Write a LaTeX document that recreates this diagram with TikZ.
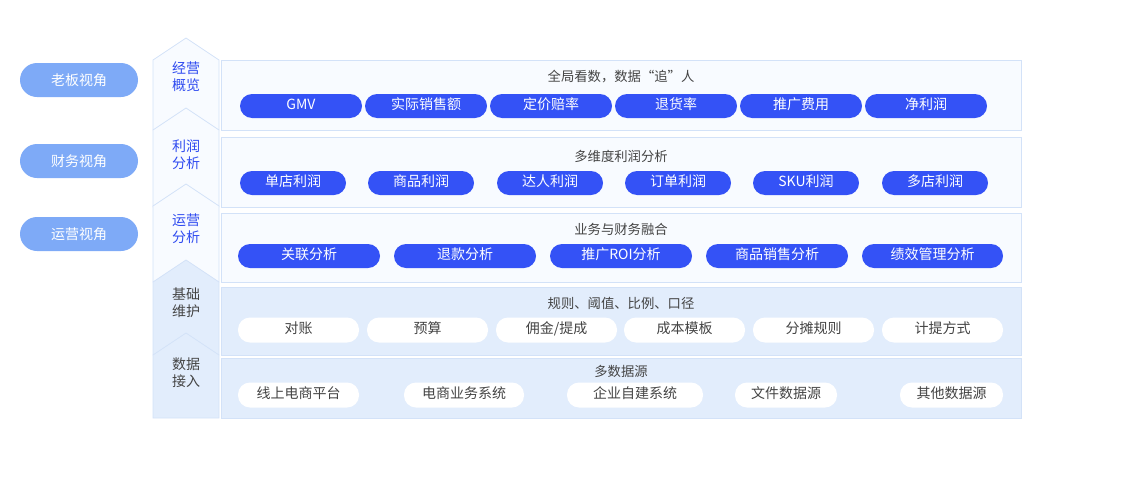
\documentclass[tikz,border=0pt]{standalone}
\usepackage{fontspec}
\setmainfont{Noto Sans CJK SC}
\definecolor{chipblue}{HTML}{3452F6}
\definecolor{viewblue}{HTML}{7EAAF7}
\definecolor{paleface}{HTML}{F8FBFF}
\definecolor{iceface}{HTML}{E2EDFC}
\definecolor{edgeblue}{HTML}{D3E2F8}
\definecolor{labelblue}{HTML}{2F4BF0}
\definecolor{inkgray}{HTML}{444444}
\tikzset{
  viewpill/.style={rounded corners=17*0.75pt,fill=viewblue,text=white,font=\fontsize{10.5}{12}\selectfont,minimum width=118*0.75pt,minimum height=34*0.75pt,inner sep=0pt},
  hotchip/.style={rounded corners=12*0.75pt,fill=chipblue,text=white,font=\fontsize{10.5}{12}\selectfont,minimum height=24*0.75pt,inner sep=0pt},
  coolchip/.style={rounded corners=12*0.75pt,fill=white,text=inkgray,font=\fontsize{10.5}{12}\selectfont,minimum height=25*0.75pt,inner sep=0pt},
  panelbox/.style={draw=edgeblue,line width=0.6pt},
  tiertext/.style={font=\fontsize{10.5}{13}\selectfont,align=center},
  headtext/.style={font=\fontsize{10}{12}\selectfont,text=inkgray}
}
\newcommand{\chip}[5]{\node[#1,minimum width=(#3-#2)*0.75pt] (#5) at ({(#2+#3)/2},#4) {\strut\smash{#5}};}
\begin{document}
\begin{tikzpicture}[x=0.75pt,y=-0.75pt]
\useasboundingbox (0,0) rectangle (1121,493);
% view pills
\node[viewpill] (boss) at (79,80) {老板视角};
\node[viewpill] (finance) at (79,161) {财务视角};
\node[viewpill] (ops) at (79,234) {运营视角};
% tier chevrons, drawn top to bottom
\foreach \pk/\sh/\bt/\fc in {38/60/130/paleface,108/130/207/paleface,184/206/282/paleface,260/282/355/iceface,333/355/418/iceface}
  \filldraw[fill=\fc,draw=edgeblue,line width=0.6pt] (153,\bt) -- (153,\sh) -- (186,\pk) -- (219,\sh) -- (219,\bt) -- cycle;
\node[tiertext,text=labelblue] (tierA) at (186,77) {经营\\概览};
\node[tiertext,text=labelblue] (tierB) at (186,155) {利润\\分析};
\node[tiertext,text=labelblue] (tierC) at (186,229) {运营\\分析};
\node[tiertext,text=inkgray] (tierD) at (186,303) {基础\\维护};
\node[tiertext,text=inkgray] (tierE) at (186,373) {数据\\接入};
% panels
\filldraw[panelbox,fill=paleface] (221,60) rectangle (1021,130);
\filldraw[panelbox,fill=paleface] (221,137) rectangle (1021,207);
\filldraw[panelbox,fill=paleface] (221,213) rectangle (1021,282);
\filldraw[panelbox,fill=iceface] (221,287) rectangle (1021,355);
\filldraw[panelbox,fill=iceface] (221,358) rectangle (1021,418);
\node[headtext] (headA) at (621,77) {全局看数，数据“追”人};
\node[headtext] (headB) at (621,156) {多维度利润分析};
\node[headtext] (headC) at (621,229) {业务与财务融合};
\node[headtext] (headD) at (621,303) {规则、阈值、比例、口径};
\node[headtext] (headE) at (621,371) {多数据源};
% chips
\chip{hotchip}{240}{362}{106}{GMV}
\chip{hotchip}{365}{487}{106}{实际销售额}
\chip{hotchip}{490}{612}{106}{定价赔率}
\chip{hotchip}{615}{737}{106}{退货率}
\chip{hotchip}{740}{862}{106}{推广费用}
\chip{hotchip}{865}{987}{106}{净利润}
\chip{hotchip}{240}{346}{183}{单店利润}
\chip{hotchip}{368}{474}{183}{商品利润}
\chip{hotchip}{497}{603}{183}{达人利润}
\chip{hotchip}{625}{731}{183}{订单利润}
\chip{hotchip}{753}{859}{183}{SKU利润}
\chip{hotchip}{882}{988}{183}{多店利润}
\chip{hotchip}{238}{380}{256}{关联分析}
\chip{hotchip}{394}{536}{256}{退款分析}
\chip{hotchip}{550}{692}{256}{推广ROI分析}
\chip{hotchip}{706}{848}{256}{商品销售分析}
\chip{hotchip}{862}{1003}{256}{绩效管理分析}
\chip{coolchip}{238}{359}{330}{对账}
\chip{coolchip}{367}{488}{330}{预算}
\chip{coolchip}{496}{617}{330}{佣金/提成}
\chip{coolchip}{624}{745}{330}{成本模板}
\chip{coolchip}{753}{874}{330}{分摊规则}
\chip{coolchip}{882}{1003}{330}{计提方式}
\chip{coolchip}{238}{359}{395}{线上电商平台}
\chip{coolchip}{404}{524}{395}{电商业务系统}
\chip{coolchip}{567}{703}{395}{企业自建系统}
\chip{coolchip}{735}{837}{395}{文件数据源}
\chip{coolchip}{900}{1003}{395}{其他数据源}
\end{tikzpicture}
\end{document}
